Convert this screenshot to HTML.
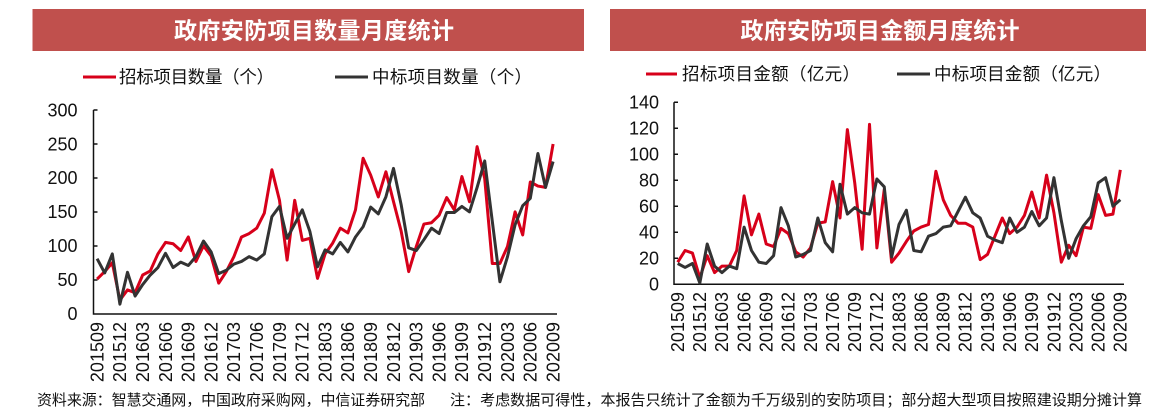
<!DOCTYPE html>
<html><head><meta charset="utf-8"><style>
html,body{margin:0;padding:0;background:#fff;}
svg{display:block;}
text{font-family:"Liberation Sans","Noto Sans CJK SC",sans-serif;}
</style></head><body>
<svg width="1152" height="411" viewBox="0 0 1152 411" xmlns="http://www.w3.org/2000/svg">
<!-- Title bars -->
<rect x="32.5" y="9" width="551.5" height="42" fill="#c0504d"/>
<rect x="610" y="9" width="536" height="42" fill="#c0504d"/>
<text x="314" y="38.5" font-size="23" font-weight="bold" fill="#fff" text-anchor="middle" style="font-family:'Noto Sans CJK SC',sans-serif" textLength="280">政府安防项目数量月度统计</text>
<text x="880" y="38.5" font-size="23" font-weight="bold" fill="#fff" text-anchor="middle" style="font-family:'Noto Sans CJK SC',sans-serif" textLength="279">政府安防项目金额月度统计</text>

<!-- Legends -->
<line x1="83" y1="77" x2="116" y2="77" stroke="#d7001a" stroke-width="3"/>
<text x="119" y="83" font-size="17.5" fill="#111" style="font-family:'Noto Sans CJK SC',sans-serif" textLength="155">招标项目数量（个）</text>
<line x1="335" y1="77" x2="368" y2="77" stroke="#333" stroke-width="3"/>
<text x="372" y="83" font-size="17.5" fill="#111" style="font-family:'Noto Sans CJK SC',sans-serif" textLength="160">中标项目数量（个）</text>

<line x1="646" y1="74" x2="677" y2="74" stroke="#d7001a" stroke-width="3"/>
<text x="682" y="80" font-size="17.5" fill="#111" style="font-family:'Noto Sans CJK SC',sans-serif" textLength="178">招标项目金额（亿元）</text>
<line x1="897" y1="74" x2="930" y2="74" stroke="#333" stroke-width="3"/>
<text x="934" y="80" font-size="17.5" fill="#111" style="font-family:'Noto Sans CJK SC',sans-serif" textLength="177">中标项目金额（亿元）</text>

<!-- Left axes -->
<g stroke="#111" stroke-width="1.5" fill="none">
<path d="M93.5 110 V314 H557"/>
<path d="M93.5 110 h4 M93.5 144 h4 M93.5 178 h4 M93.5 212 h4 M93.5 246 h4 M93.5 280 h4"/>
</g>
<g font-size="18" fill="#111" text-anchor="end">
<text x="77.5" y="116.3">300</text>
<text x="77.5" y="150.3">250</text>
<text x="77.5" y="184.2">200</text>
<text x="77.5" y="218.2">150</text>
<text x="77.5" y="252.1">100</text>
<text x="77.5" y="286.1">50</text>
<text x="77.5" y="320">0</text>
</g>
<g font-size="18" fill="#111" text-anchor="end">
<text transform="translate(97.1 322) rotate(-90)" dy="0.35em">201509</text>
<text transform="translate(119.9 322) rotate(-90)" dy="0.35em">201512</text>
<text transform="translate(142.7 322) rotate(-90)" dy="0.35em">201603</text>
<text transform="translate(165.5 322) rotate(-90)" dy="0.35em">201606</text>
<text transform="translate(188.3 322) rotate(-90)" dy="0.35em">201609</text>
<text transform="translate(211.1 322) rotate(-90)" dy="0.35em">201612</text>
<text transform="translate(233.9 322) rotate(-90)" dy="0.35em">201703</text>
<text transform="translate(256.7 322) rotate(-90)" dy="0.35em">201706</text>
<text transform="translate(279.5 322) rotate(-90)" dy="0.35em">201709</text>
<text transform="translate(302.3 322) rotate(-90)" dy="0.35em">201712</text>
<text transform="translate(325.1 322) rotate(-90)" dy="0.35em">201803</text>
<text transform="translate(347.9 322) rotate(-90)" dy="0.35em">201806</text>
<text transform="translate(370.7 322) rotate(-90)" dy="0.35em">201809</text>
<text transform="translate(393.5 322) rotate(-90)" dy="0.35em">201812</text>
<text transform="translate(416.3 322) rotate(-90)" dy="0.35em">201903</text>
<text transform="translate(439.1 322) rotate(-90)" dy="0.35em">201906</text>
<text transform="translate(461.9 322) rotate(-90)" dy="0.35em">201909</text>
<text transform="translate(484.7 322) rotate(-90)" dy="0.35em">201912</text>
<text transform="translate(507.5 322) rotate(-90)" dy="0.35em">202003</text>
<text transform="translate(530.3 322) rotate(-90)" dy="0.35em">202006</text>
<text transform="translate(553.1 322) rotate(-90)" dy="0.35em">202009</text>
</g>

<!-- Left series -->
<g transform="translate(97.1 313.7) scale(7.6 -0.679)" fill="none" stroke-width="3" stroke-linejoin="round">
<polyline vector-effect="non-scaling-stroke" stroke="#d7001a" points="0,51 1,62 2,75 3,20 4,35 5,31 6,57 7,63 8,88 9,105 10,103 11,93 12,113 13,77 14,100 15,85 16,45 17,62 18,84 19,113 20,118 21,126 22,148 23,212 24,167 25,79 26,167 27,108 28,111 29,52 30,88 31,104 32,126 33,119 34,153 35,229 36,204 37,172 38,209 39,165 40,122 41,62 42,99 43,132 44,134 45,145 46,171 47,153 48,202 49,165 50,246 51,199 52,74 53,74 54,99 55,150 56,116 57,194 58,188 59,186 60,250"/>
<polyline vector-effect="non-scaling-stroke" stroke="#333" points="0,81 1,60 2,88 3,14 4,61 5,26 6,43 7,57 8,68 9,89 10,68 11,76 12,71 13,84 14,107 15,91 16,59 17,64 18,73 19,77 20,84 21,79 22,88 23,143 24,158 25,111 26,132 27,153 28,121 29,69 30,94 31,88 32,105 33,91 34,113 35,128 36,157 37,147 38,172 39,214 40,161 41,97 42,93 43,109 44,126 45,118 46,149 47,149 48,158 49,150 50,186 51,225 52,136 53,47 54,84 55,131 56,159 57,170 58,236 59,186 60,224"/>
</g>

<!-- Right axes -->
<g stroke="#111" stroke-width="1.5" fill="none">
<path d="M674 102.3 V284.3 H1124"/>
<path d="M674 102.3 h4 M674 128.3 h4 M674 154.3 h4 M674 180.3 h4 M674 206.3 h4 M674 232.3 h4 M674 258.3 h4"/>
</g>
<g font-size="18" fill="#111" text-anchor="end">
<text x="659" y="108.6">140</text>
<text x="659" y="134.6">120</text>
<text x="659" y="160.6">100</text>
<text x="659" y="186.6">80</text>
<text x="659" y="212.6">60</text>
<text x="659" y="238.6">40</text>
<text x="659" y="264.6">20</text>
<text x="659" y="290.6">0</text>
</g>
<g font-size="18" fill="#111" text-anchor="end">
<text transform="translate(677.7 292) rotate(-90)" dy="0.35em">201509</text>
<text transform="translate(699.8 292) rotate(-90)" dy="0.35em">201512</text>
<text transform="translate(721.8 292) rotate(-90)" dy="0.35em">201603</text>
<text transform="translate(744.1 292) rotate(-90)" dy="0.35em">201606</text>
<text transform="translate(766.2 292) rotate(-90)" dy="0.35em">201609</text>
<text transform="translate(788.4 292) rotate(-90)" dy="0.35em">201612</text>
<text transform="translate(810.5 292) rotate(-90)" dy="0.35em">201703</text>
<text transform="translate(832.6 292) rotate(-90)" dy="0.35em">201706</text>
<text transform="translate(854.8 292) rotate(-90)" dy="0.35em">201709</text>
<text transform="translate(876.9 292) rotate(-90)" dy="0.35em">201712</text>
<text transform="translate(899.0 292) rotate(-90)" dy="0.35em">201803</text>
<text transform="translate(921.1 292) rotate(-90)" dy="0.35em">201806</text>
<text transform="translate(943.3 292) rotate(-90)" dy="0.35em">201809</text>
<text transform="translate(965.4 292) rotate(-90)" dy="0.35em">201812</text>
<text transform="translate(987.5 292) rotate(-90)" dy="0.35em">201903</text>
<text transform="translate(1009.7 292) rotate(-90)" dy="0.35em">201906</text>
<text transform="translate(1031.8 292) rotate(-90)" dy="0.35em">201909</text>
<text transform="translate(1054.0 292) rotate(-90)" dy="0.35em">201912</text>
<text transform="translate(1076.1 292) rotate(-90)" dy="0.35em">202003</text>
<text transform="translate(1098.2 292) rotate(-90)" dy="0.35em">202006</text>
<text transform="translate(1120.3 292) rotate(-90)" dy="0.35em">202009</text>
</g>

<!-- Right series -->
<g transform="translate(677.7 284.3) scale(7.377 -1.3)" fill="none" stroke-width="3" stroke-linejoin="round">
<polyline vector-effect="non-scaling-stroke" stroke="#d7001a" points="0,17 1,26 2,24 3,5 4,22 5,9 6,14 7,14 8,26 9,68 10,38 11,54 12,31 13,29 14,43 15,39 16,25 17,21 18,28 19,47 20,48 21,79 22,51 23,119 24,78 25,27 26,123 27,28 28,73 29,17 30,24 31,33 32,41 33,44 34,46 35,87 36,65 37,53 38,47 39,47 40,44 41,19 42,23 43,37 44,51 45,39 46,44 47,53 48,71 49,51 50,84 51,55 52,17 53,30 54,22 55,44 56,43 57,69 58,53 59,54 60,88"/>
<polyline vector-effect="non-scaling-stroke" stroke="#333" points="0,16 1,13 2,16 3,1 4,31 5,14 6,9 7,14 8,12 9,44 10,26 11,17 12,16 13,22 14,59 15,45 16,21 17,23 18,26 19,51 20,32 21,25 22,77 23,54 24,59 25,55 26,54 27,81 28,75 29,21 30,46 31,57 32,26 33,25 34,37 35,39 36,44 37,45 38,56 39,67 40,55 41,51 42,37 43,34 44,32 45,51 46,40 47,44 48,56 49,45 50,51 51,82 52,49 53,20 54,35 55,45 56,52 57,78 58,82 59,60 60,65"/>
</g>

<!-- Footer -->
<text x="37" y="405" font-size="15" fill="#111" style="font-family:'Noto Sans CJK SC',sans-serif" textLength="388">资料来源：智慧交通网，中国政府采购网，中信证券研究部</text>
<text x="450" y="405" font-size="15" fill="#111" style="font-family:'Noto Sans CJK SC',sans-serif" textLength="692">注：考虑数据可得性，本报告只统计了金额为千万级别的安防项目；部分超大型项目按照建设期分摊计算</text>
</svg>
</body></html>
